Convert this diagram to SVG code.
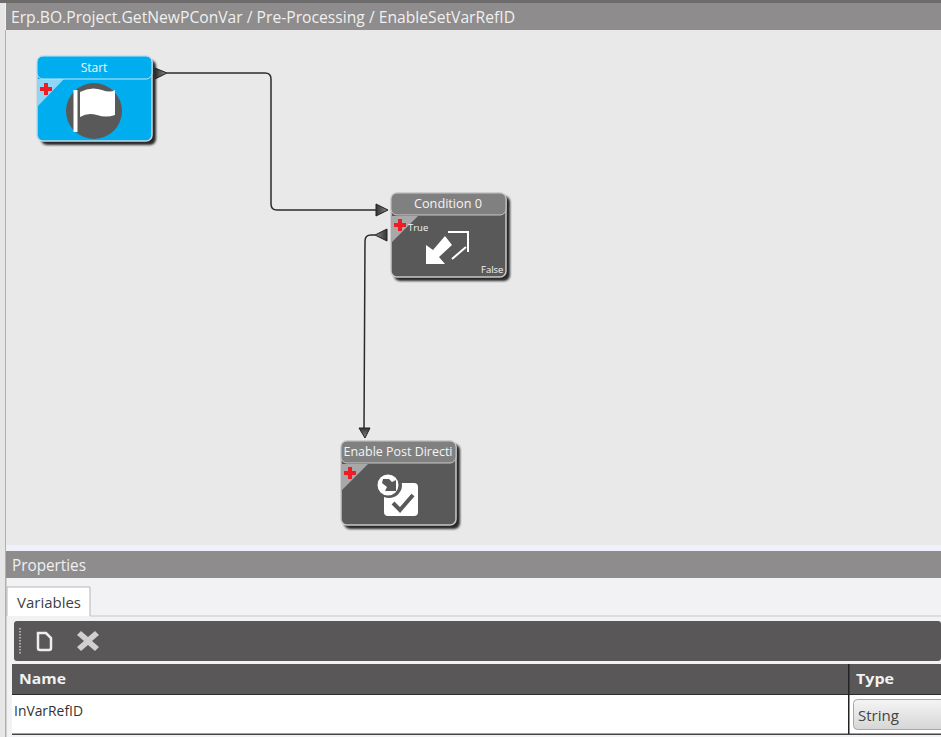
<svg xmlns="http://www.w3.org/2000/svg" width="941" height="737" viewBox="0 0 941 737">
<defs>
<filter id="soft" x="-10%" y="-10%" width="120%" height="120%"><feGaussianBlur stdDeviation="1"/></filter>
<linearGradient id="dd" x1="0" y1="0" x2="0" y2="1"><stop offset="0" stop-color="#f5f5f5"/><stop offset="1" stop-color="#d6d6d6"/></linearGradient>
<linearGradient id="ag" x1="0" y1="0" x2="1" y2="0"><stop offset="0" stop-color="#333"/><stop offset="1" stop-color="#8a8a8a"/></linearGradient>
<linearGradient id="ag2" x1="1" y1="0" x2="0" y2="0"><stop offset="0" stop-color="#333"/><stop offset="1" stop-color="#8a8a8a"/></linearGradient>
<linearGradient id="ag3" x1="0" y1="0" x2="0" y2="1"><stop offset="0" stop-color="#333"/><stop offset="1" stop-color="#8a8a8a"/></linearGradient>
</defs>
<style>
text{font-family:"Open Sans","Noto Sans","Liberation Sans",sans-serif}
.hd{fill:#f0f0f0;font-size:15.5px}
.nt{fill:#f4f4f4;font-size:12px;text-anchor:middle}
.sm{fill:#f4f4f4;font-size:9.5px}
.nb{fill:#595959;stroke:#c8c8c8;stroke-width:1.5}
.sh{fill:#2a2a2a}
.wire{fill:none;stroke:#2b2b2b;stroke-width:1.5}
.ah{stroke:#222;stroke-width:1}
.plus{fill:#ee1c25}
.wh{fill:#fff}
.tb{fill:#f2f2f2;font-size:15px;font-weight:700}
</style>
<rect width="941" height="737" fill="#f2f2f4"/>
<rect x="0" y="0" width="5" height="737" fill="#e6e6e6"/>
<rect x="5" y="30" width="1.500" height="707" fill="#b0b0b0"/>
<rect x="0" y="0" width="941" height="3" fill="#6d6b6b"/>
<rect x="6" y="3" width="935" height="27" fill="#8e8c8c"/>
<rect x="6" y="30" width="935" height="515" fill="#e9e9e9"/>
<rect x="6" y="545" width="935" height="6" fill="#eef0fa"/>
<rect x="6" y="551" width="935" height="27" fill="#8e8c8c"/>
<text class="hd" x="11" y="23" textLength="504" lengthAdjust="spacingAndGlyphs">Erp.BO.Project.GetNewPConVar / Pre-Processing / EnableSetVarRefID</text>
<text class="hd" x="12" y="571" textLength="74" lengthAdjust="spacingAndGlyphs">Properties</text>

<g id="connectors">
<path class="wire" d="M167 73H265Q271 73 271 79V204Q271 210 277 210H376"/>
<path class="wire" d="M375 235H371Q365 235 365 241L364 430"/>
<path class="ah" fill="url(#ag)" d="M155 68L167 73L155 79Z"/>
<path class="ah" fill="url(#ag)" d="M376 204L388 210L376 216Z"/>
<path class="ah" fill="url(#ag2)" d="M387 229L375 235L387 241Z"/>
<path class="ah" fill="url(#ag3)" d="M359 428L370 428L365 438Z"/>
</g>

<g id="node-start">
<rect class="sh" x="41" y="60" width="115" height="85" rx="6" filter="url(#soft)"/>
<rect x="37" y="56" width="115" height="85" rx="6" fill="#00aeef" stroke="#c8d8e0" stroke-width="1.5"/>
<path d="M37 79H64L37 107Z" fill="#8fd6f5"/>
<rect x="37" y="56" width="115" height="23" rx="6" fill="#00aeef" stroke="#bfe6f7"/>
<text class="nt" x="94" y="72">Start</text>
<path class="plus" d="M44 83h4v4h4v4h-4v4h-4v-4h-4v-4h4z"/>
<circle cx="94" cy="111" r="28" fill="#595959"/>
<rect x="73.500" y="90" width="4" height="42" fill="#fff"/>
<path class="wh" d="M80 92Q91 86 102 90Q110 93 115 90V115Q106 118 97 115Q88 112 80 117Z"/>
</g>

<g id="node-condition">
<rect class="sh" x="394" y="196" width="116" height="85" rx="6" filter="url(#soft)"/>
<rect class="nb" x="391" y="193" width="115" height="84" rx="6"/>
<path d="M391 216H418L391 243Z" fill="#a8a8a8"/>
<rect x="391" y="193" width="115" height="22" rx="6" fill="#808080" stroke="#c8c8c8"/>
<text class="nt" x="448" y="208" textLength="68" lengthAdjust="spacingAndGlyphs">Condition 0</text>
<path class="plus" d="M398 219h4v4h4v4h-4v4h-4v-4h-4v-4h4z"/>
<text class="sm" x="408" y="231">True</text>
<text class="sm" x="481" y="273">False</text>
<path class="wh" d="M426 245V264H445L439 257L452 245L445 236L433 250Z"/>
<path d="M448 232H468V252M466 247L452 259" fill="none" stroke="#fff" stroke-width="2"/>
</g>

<g id="node-enable">
<rect class="sh" x="344" y="444" width="116" height="85" rx="6" filter="url(#soft)"/>
<rect class="nb" x="341" y="441" width="115" height="84" rx="6"/>
<path d="M341 464H368L341 491Z" fill="#a8a8a8"/>
<rect x="341" y="441" width="115" height="22" rx="6" fill="#808080" stroke="#c8c8c8"/>
<text class="nt" x="398" y="456" textLength="109" lengthAdjust="spacingAndGlyphs">Enable Post Directi</text>
<path class="plus" d="M348 467h4v4h4v4h-4v4h-4v-4h-4v-4h4z"/>
<rect x="384" y="483" width="34" height="33" rx="4" fill="#fff"/>
<path d="M393 503L400 510L413 495" fill="none" stroke="#595959" stroke-width="4"/>
<circle cx="389" cy="485" r="13" fill="#595959"/>
<circle cx="388" cy="485" r="10.500" fill="#fff"/>
<path fill="#595959" d="M383 479L389 479L392 482L396 480V491H385L387 487L382 483Z"/>
</g>

<g id="properties">
<path d="M7 616V587H90V616" fill="#fff" stroke="#b5b5b5"/>
<path d="M90 616H941" stroke="#c8c8c8"/>
<text x="17" y="608" font-size="15" fill="#3f3f3f" textLength="64" lengthAdjust="spacingAndGlyphs">Variables</text>
<rect x="14" y="621" width="927" height="40" rx="3" fill="#595757"/>
<path d="M20 628V654" stroke="#c9c9c9" stroke-width="1.500" stroke-dasharray="1.500 1.500"/>
<path d="M38 633H46L51 638V648Q51 650 49 650H40Q38 650 38 648Z" fill="none" stroke="#eee" stroke-width="2.500"/>
<path d="M81 631L88 637L95 631L99 635L92 641L99 647L95 651L88 645L81 651L77 647L84 641L77 635Z" fill="#d0d0d0"/>
<rect x="12" y="664" width="929" height="30" fill="#595757"/>
<rect x="12" y="694" width="929" height="1.500" fill="#2c2c2c"/>
<rect x="12" y="695" width="929" height="39" fill="#fff"/>
<rect x="12" y="733.500" width="929" height="1.500" fill="#444"/>
<rect x="848" y="664" width="1.500" height="70" fill="#222"/>
<text class="tb" x="19" y="684" textLength="47" lengthAdjust="spacingAndGlyphs">Name</text>
<text class="tb" x="856" y="684" textLength="38" lengthAdjust="spacingAndGlyphs">Type</text>
<text x="14" y="716" font-size="14" fill="#333" textLength="69" lengthAdjust="spacingAndGlyphs">InVarRefID</text>
<rect x="853.500" y="699.500" width="95" height="30" rx="4" fill="url(#dd)" stroke="#a8a8a8"/>
<text x="858" y="721" font-size="15" fill="#444" textLength="41" lengthAdjust="spacingAndGlyphs">String</text>
</g>
</svg>
